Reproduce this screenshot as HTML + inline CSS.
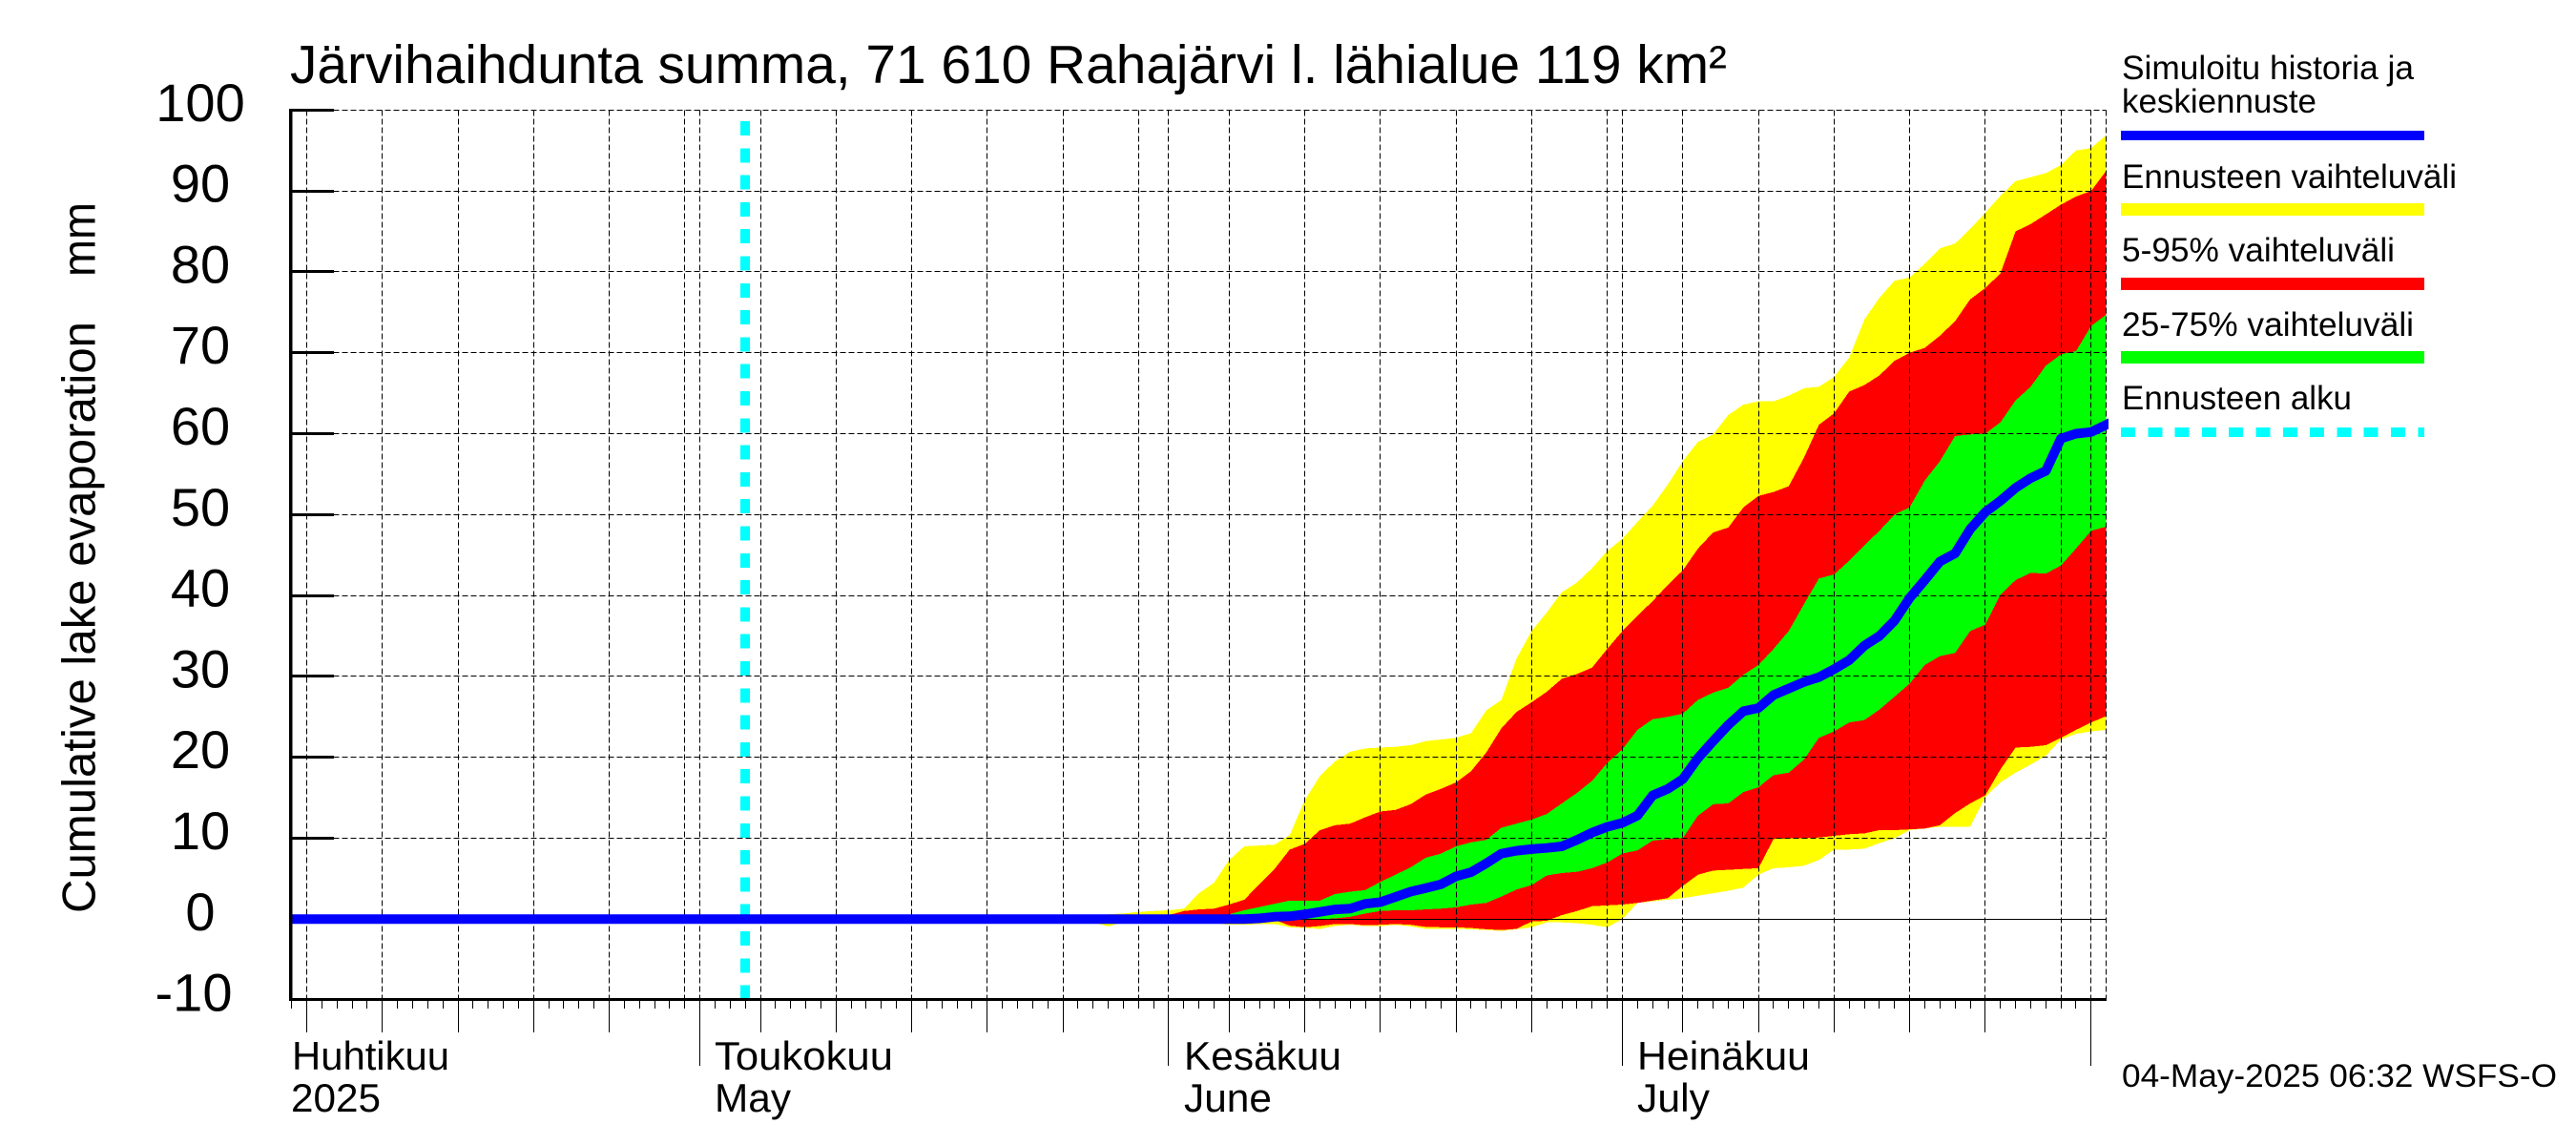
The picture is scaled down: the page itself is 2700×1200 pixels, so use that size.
<!DOCTYPE html>
<html lang="fi">
<head>
<meta charset="utf-8">
<title>Järvihaihdunta summa</title>
<style>
html,body{margin:0;padding:0;background:#fff;}
svg{display:block;}
text{font-family:"Liberation Sans",Arial,sans-serif;fill:#000;}
</style>
</head>
<body>
<svg id="chart" xmlns="http://www.w3.org/2000/svg" width="2700" height="1200" viewBox="0 0 2700 1200">
  <defs>
    <clipPath id="median-clip"><rect x="303" y="100" width="1907" height="950"/></clipPath>
  </defs>
  <rect x="0" y="0" width="2700" height="1200" fill="#fff"/>
  <text x="304" y="87" font-size="56.5" textLength="1506" lengthAdjust="spacingAndGlyphs">Järvihaihdunta summa, 71 610 Rahajärvi l. lähialue 119 km²</text>
  <text transform="translate(99.5 957) rotate(-90)" font-size="49" textLength="620" lengthAdjust="spacingAndGlyphs">Cumulative lake evaporation</text>
  <text transform="translate(99.5 290) rotate(-90)" font-size="49" textLength="78" lengthAdjust="spacingAndGlyphs">mm</text>

  <g id="bands"></g>
  <g id="grid"></g>
  <g id="cyan"></g>
  <g id="median" clip-path="url(#median-clip)"></g>
  <g id="axes"></g>

  <text x="306" y="1121" font-size="41.5" textLength="165" lengthAdjust="spacingAndGlyphs">Huhtikuu</text>
  <text x="305" y="1165" font-size="41.5" textLength="94" lengthAdjust="spacingAndGlyphs">2025</text>
  <text x="749" y="1121" font-size="41.5" textLength="187" lengthAdjust="spacingAndGlyphs">Toukokuu</text>
  <text x="749" y="1165" font-size="41.5" textLength="80" lengthAdjust="spacingAndGlyphs">May</text>
  <text x="1241" y="1121" font-size="41.5" textLength="165" lengthAdjust="spacingAndGlyphs">Kesäkuu</text>
  <text x="1241" y="1165" font-size="41.5" textLength="92" lengthAdjust="spacingAndGlyphs">June</text>
  <text x="1716" y="1121" font-size="41.5" textLength="181" lengthAdjust="spacingAndGlyphs">Heinäkuu</text>
  <text x="1716" y="1165" font-size="41.5" textLength="76" lengthAdjust="spacingAndGlyphs">July</text>

  <g>
    <text x="2224" y="83" font-size="35" textLength="306" lengthAdjust="spacingAndGlyphs">Simuloitu historia ja</text>
    <text x="2224" y="118" font-size="35" textLength="204" lengthAdjust="spacingAndGlyphs">keskiennuste</text>
    <rect x="2223" y="137" width="318" height="10" fill="#0000ff"/>
    <text x="2224" y="197" font-size="35" textLength="351" lengthAdjust="spacingAndGlyphs">Ennusteen vaihteluväli</text>
    <rect x="2223" y="213" width="318" height="13" fill="#ffff00"/>
    <text x="2224" y="274" font-size="35" textLength="286" lengthAdjust="spacingAndGlyphs">5-95% vaihteluväli</text>
    <rect x="2223" y="291" width="318" height="13" fill="#ff0000"/>
    <text x="2224" y="352" font-size="35" textLength="306" lengthAdjust="spacingAndGlyphs">25-75% vaihteluväli</text>
    <rect x="2223" y="368" width="318" height="13" fill="#00ff00"/>
    <text x="2224" y="429" font-size="35" textLength="241" lengthAdjust="spacingAndGlyphs">Ennusteen alku</text>
    <line x1="2223" y1="453" x2="2541" y2="453" stroke="#00ffff" stroke-width="10" stroke-dasharray="15 13.3" shape-rendering="crispEdges"/>
  </g>

  <text x="2224" y="1139" font-size="34" textLength="456" lengthAdjust="spacingAndGlyphs">04-May-2025 06:32 WSFS-O</text>
</svg>
<script>
// Day index = days since 1 April 2025.
const yTickValues = [100, 90, 80, 70, 60, 50, 40, 30, 20, 10, 0, -10];
const monthStartDays = [30, 61, 91, 122];
const gridDays = [4, 9, 14, 19, 24, 29, 34, 39, 44, 49, 54, 59, 65, 70, 75, 80, 85, 90, 95, 100, 105, 110, 115, 120, 123];
const longTickDays = [4, 9, 14, 19, 24, 34, 39, 44, 49, 54, 65, 70, 75, 80, 85, 95, 100, 105, 110, 115];
const axisFirstDay = 3;
const axisLastDay = 122;
const forecastStartDay = 33;
const bandFirstDay = 54;
const medianFirstDay = 3;

const yellowUpper = [
  0,0,0.1,0.6,0.7,0.9,
  1.0,1.1,1.3,3.2,4.5,7.3,9.0,9.1,9.2,10.4,
  14.7,17.7,19.5,20.7,21.1,21.2,21.3,21.5,22.0,22.2,
  22.4,23.0,25.8,27.1,32.2,35.6,37.9,40.4,41.6,43.4,
  45.5,47.0,49.1,51.1,53.7,56.6,59.0,59.9,62.3,63.6,
  64.0,64.0,64.7,65.6,65.8,67.0,69.4,74.1,76.8,78.9,
  79.3,81.0,82.9,83.5,85.3,87.3,89.4,91.2,91.7,92.2,
  93.2,95.0,95.3,96.9
];
const yellowLower = [
  0,-0.1,-0.4,-0.9,-0.4,-0.3,
  -0.3,-0.3,-0.3,-0.3,-0.5,-0.7,-0.7,-0.6,-0.6,-1.0,
  -1.1,-1.2,-0.85,-0.7,-0.85,-0.85,-0.7,-0.9,-1.2,-1.2,
  -1.2,-1.25,-1.35,-1.45,-1.25,-1.0,-0.4,-0.4,-0.5,-0.7,
  -1.0,0.0,2.0,2.2,2.4,2.6,2.9,3.2,3.5,3.9,
  5.5,6.3,6.4,6.6,7.3,8.6,8.6,8.7,9.4,10.0,
  11.0,11.2,11.4,11.4,11.4,15.1,16.9,18.1,19.1,20.2,
  22.2,22.9,23.2,23.4
];
const redUpper = [
  0,0,0,0,0.1,0.2,
  0.3,0.5,1.0,1.2,1.3,1.8,2.4,4.3,6.2,8.6,
  9.3,11.0,11.6,11.8,12.6,13.3,13.5,14.2,15.4,16.1,
  16.9,18.3,20.6,23.6,25.6,26.8,28.1,29.7,30.3,31.1,
  33.4,35.6,37.5,39.3,41.3,43.1,45.8,47.8,48.4,50.9,
  52.3,52.8,53.5,57.0,61.1,62.5,65.2,66.0,67.2,69.0,
  70.0,70.6,72.1,73.9,76.6,78.0,79.8,85.0,85.9,87.1,
  88.3,89.3,90.0,92.5
];
const redLower = [
  0,0,0,0,0,0,
  0,0,0,0,0,0,0,0,-0.1,-0.8,
  -1.0,-0.85,-0.6,-0.6,-0.75,-0.7,-0.6,-0.7,-0.95,-1.0,
  -1.0,-1.1,-1.25,-1.35,-1.2,-0.3,-0.2,0.5,1.0,1.6,
  1.7,1.8,2.0,2.3,2.6,4.1,5.5,6.0,6.1,6.2,
  6.3,9.9,10.0,10.0,10.1,10.3,10.5,10.6,11.0,11.0,
  11.1,11.2,11.6,13.1,14.3,15.3,18.5,21.2,21.3,21.5,
  22.4,23.4,24.3,25.1
];
const greenUpper = [
  0,0,0,0,0,0,
  0,0,0,0,0.2,0.6,1.1,1.5,1.9,2.3,
  2.3,2.3,3.1,3.4,3.6,4.6,5.5,6.4,7.6,8.1,
  9.0,9.5,9.8,11.3,11.8,12.3,13.0,14.3,15.6,17.1,
  19.3,21.0,23.4,24.7,25.0,25.4,27.1,28.0,28.6,30.2,
  31.4,33.4,35.6,38.9,42.1,42.6,44.3,46.2,48.0,50.0,
  50.9,54.2,56.6,59.7,59.9,60.0,61.4,64.1,65.8,68.4,
  69.8,70.2,73.3,74.7
];
const greenLower = [
  0,0,0,0,0,0,
  0,0,0,0,0,0,0,0,0,0,
  0,0,0.1,0.3,0.7,1.0,1.1,1.1,1.2,1.3,
  1.45,1.8,2.0,2.8,3.65,4.2,5.4,5.7,5.85,6.3,
  7.0,8.1,8.5,9.7,9.9,10.0,12.8,14.2,14.3,15.7,
  16.3,17.8,18.1,19.7,22.4,23.2,24.3,24.6,25.9,27.5,
  29.1,31.4,32.5,32.9,35.6,36.4,40.1,41.9,42.8,42.7,
  43.7,45.8,48.0,48.5
];
const medianValues = [
  0,0,0,0,0,0,0,0,0,0,
  0,0,0,0,0,0,0,0,0,0,
  0,0,0,0,0,0,0,0,0,0,
  0,0,0,0,0,0,0,0,0,0,
  0,0,0,0,0,0,0,0,0,0,
  0,0,0,0,0,0,0,0,0,0,
  0,0,0,0,
  0.1,0.3,0.35,
  0.6,0.9,1.2,1.3,1.9,2.1,2.75,3.4,3.85,4.3,
  5.3,5.8,6.9,8.1,8.45,8.65,8.8,9.0,9.8,10.7,
  11.4,11.9,12.8,15.3,16.1,17.3,19.9,22.0,24.0,25.7,
  26.1,27.7,28.5,29.3,29.9,30.9,32.0,33.8,35.0,36.9,
  39.7,41.9,44.2,45.2,48.2,50.3,51.7,53.3,54.5,55.4,
  59.4,60.0,60.2,61.1
];

const SVG_NS = 'http://www.w3.org/2000/svg';
const PLOT_LEFT = 304.5;
const PLOT_RIGHT = 2207.6;
const PLOT_BOTTOM = 1047.3;

function xScale(day) { return 733.6 + (day - 30) * 15.85; }
function yScale(value) { return 963.3 - 8.48 * value; }
function pixelCenter(pos) { return Math.floor(pos) + 0.5; }

function make(tag, attrs, parent) {
  const node = document.createElementNS(SVG_NS, tag);
  for (const key in attrs) node.setAttribute(key, attrs[key]);
  parent.appendChild(node);
  return node;
}

function bandPoints(upper, lower) {
  const pts = [];
  upper.forEach(function (v, i) { pts.push(xScale(bandFirstDay + i).toFixed(1) + ',' + yScale(v).toFixed(1)); });
  for (let i = lower.length - 1; i >= 0; i--) pts.push(xScale(bandFirstDay + i).toFixed(1) + ',' + yScale(lower[i]).toFixed(1));
  return pts.join(' ');
}

const bandsGroup = document.getElementById('bands');
const yellowBand = make('polygon', { points: bandPoints(yellowUpper, yellowLower), fill: '#ffff00', 'shape-rendering': 'crispEdges' }, bandsGroup);


const redBand = make('polygon', { points: bandPoints(redUpper, redLower), fill: '#ff0000', 'shape-rendering': 'crispEdges' }, bandsGroup);


const greenBand = make('polygon', { points: bandPoints(greenUpper, greenLower), fill: '#00ff00', 'shape-rendering': 'crispEdges' }, bandsGroup);



const gridGroup = document.getElementById('grid');
const gridLineStyle = { stroke: '#000', 'stroke-width': 1, 'stroke-dasharray': '6 3', 'shape-rendering': 'crispEdges' };
yTickValues.forEach(function (v) {
  if (v === 0 || v === -10) return;
  const y = pixelCenter(yScale(v));
  const h = make('line', Object.assign({ x1: PLOT_LEFT, y1: y, x2: PLOT_RIGHT, y2: y }, gridLineStyle), gridGroup);
  
  
});
gridDays.concat(monthStartDays).forEach(function (d) {
  const x = pixelCenter(xScale(d));
  const g = make('line', Object.assign({ x1: x, y1: yScale(100), x2: x, y2: PLOT_BOTTOM }, gridLineStyle), gridGroup);
  
  
});
const zeroLine = make('line', { x1: PLOT_LEFT, y1: pixelCenter(yScale(0)), x2: PLOT_RIGHT, y2: pixelCenter(yScale(0)), stroke: '#000', 'stroke-width': 1, 'shape-rendering': 'crispEdges' }, gridGroup);



const startLine = make('line', { x1: xScale(forecastStartDay), y1: 127, x2: xScale(forecastStartDay), y2: PLOT_BOTTOM, stroke: '#00ffff', 'stroke-width': 10, 'stroke-dasharray': '15 13.3', 'shape-rendering': 'crispEdges' }, document.getElementById('cyan'));



const medianPts = medianValues.map(function (v, i) {
  return xScale(medianFirstDay + i).toFixed(1) + ',' + yScale(v).toFixed(1);
}).join(' ');
const medianLine = make('polyline', { points: medianPts, fill: 'none', stroke: '#0000ff', 'stroke-width': 10, 'stroke-linejoin': 'round', 'stroke-linecap': 'square' }, document.getElementById('median'));



const axesGroup = document.getElementById('axes');
const yAxisLine = make('rect', { x: 303, y: yScale(100) - 1.5, width: 3.5, height: PLOT_BOTTOM - yScale(100) + 3, fill: '#000', 'shape-rendering': 'crispEdges' }, axesGroup);


const xAxisLine = make('rect', { x: 303, y: 1046, width: PLOT_RIGHT - 303 + 0.5, height: 3, fill: '#000', 'shape-rendering': 'crispEdges' }, axesGroup);



yTickValues.forEach(function (v) {
  const y = Math.floor(yScale(v));
  if (v !== -10 && v !== 0) {
    const mark = make('rect', { x: 304, y: y - 1, width: 46, height: 3, fill: '#000', 'shape-rendering': 'crispEdges' }, axesGroup);
    
    
  }
  const label = make('text', { x: v === -10 ? 203 : 210, y: yScale(v) + 11.5, 'font-size': 56, 'text-anchor': 'middle' }, axesGroup);
  label.textContent = String(v);
  
  
});

for (let d = axisFirstDay; d <= axisLastDay; d++) {
  const x = pixelCenter(xScale(d));
  let end = 1057;
  if (longTickDays.indexOf(d) >= 0) end = 1082;
  if (monthStartDays.indexOf(d) >= 0) end = 1117;
  const t = make('line', { x1: x, y1: 1048, x2: x, y2: end, stroke: '#000', 'stroke-width': 1, 'shape-rendering': 'crispEdges' }, axesGroup);
  
  
}
</script>
</body>
</html>
